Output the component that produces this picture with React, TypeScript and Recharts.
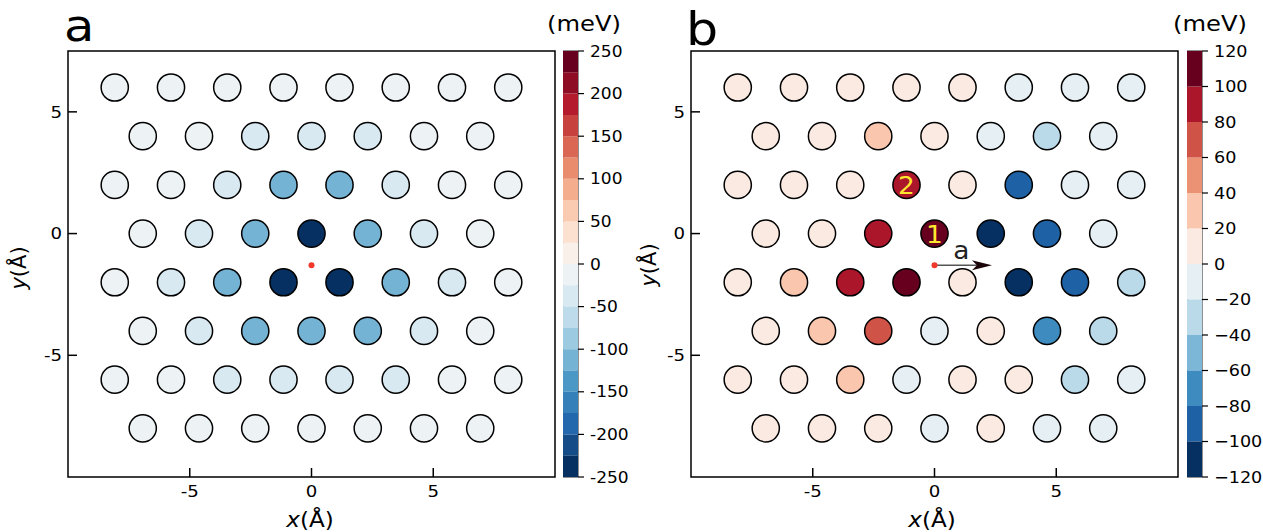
import React from "react";
import {
  ScatterChart, Scatter, XAxis, YAxis, ReferenceArea, ReferenceDot, ReferenceLine,
  BarChart, Bar,
} from "recharts";

const FONT = "'DejaVu Sans', sans-serif";
const STRETCH = 1.1; // glyphs in this figure run a little wide

// ─── Lattice (Å) ──────────────────────────────────────────────────────────────
const rowY = [6, 4, 2, 0, -2, -4, -6, -8];
const colsWide = [-8.08, -5.77, -3.46, -1.15, 1.15, 3.46, 5.77, 8.08];
const colsNarrow = [-6.93, -4.62, -2.31, 0, 2.31, 4.62, 6.93];
const axisTicks = [-5, 0, 5];

// ─── Site energies (meV), one list per row, top row first ────────────────────
const energyA = [
  [-10, -10, -10, -10, -10, -10, -10, -10],
  [-10, -10, -40, -40, -40, -10, -10],
  [-10, -10, -40, -110, -110, -40, -10, -10],
  [-10, -40, -110, -240, -110, -40, -10],
  [-10, -40, -110, -240, -240, -110, -40, -10],
  [-10, -40, -110, -110, -110, -40, -10],
  [-10, -10, -40, -40, -40, -40, -10, -10],
  [-10, -10, -10, -10, -10, -10, -10],
];

const energyB = [
  [10, 10, 10, 10, 10, -10, -10, -10],
  [10, 10, 30, 10, -10, -30, -10],
  [10, 10, 10, 90, 10, -90, -10, -10],
  [10, 10, 90, 110, -110, -90, -10],
  [10, 30, 90, 110, 10, -110, -90, -30],
  [10, 30, 70, -10, 10, -70, -30],
  [10, 10, 30, -10, 10, 10, -30, -10],
  [10, 10, 10, -10, 10, -10, -10],
];

const tagsB = [
  { x: 0, y: 0, text: "1" },
  { x: -1.15, y: 2, text: "2" },
];

const origin = { x: 0, y: -1.3 };
const arrowTip = { x: 2.36, y: -1.3 };

// ─── Colour levels ───────────────────────────────────────────────────────────
const levelsA = [-250, -225, -200, -175, -150, -125, -100, -75, -50, -25, 0, 25, 50, 75, 100, 125, 150, 175, 200, 225, 250];
const labelsA = [-250, -200, -150, -100, -50, 0, 50, 100, 150, 200, 250];
const levelsB = [-120, -100, -80, -60, -40, -20, 0, 20, 40, 60, 80, 100, 120];

// RdBu_r anchor colours
const RDBU_R = ["#053061", "#2166ac", "#4393c3", "#92c5de", "#d1e5f0", "#f7f7f7", "#fddbc7", "#f4a582", "#d6604d", "#b2182b", "#67001f"];

const hexToRgb = (h: string) => [1, 3, 5].map(i => parseInt(h.slice(i, i + 2), 16));
const rdbu = (t: number) => {
  const s = Math.min(Math.max(t, 0), 1) * (RDBU_R.length - 1);
  const i = Math.min(Math.floor(s), RDBU_R.length - 2);
  const f = s - i;
  const a = hexToRgb(RDBU_R[i]);
  const b = hexToRgb(RDBU_R[i + 1]);
  const c = a.map((v, k) => Math.round(v + (b[k] - v) * f));
  return `rgb(${c[0]},${c[1]},${c[2]})`;
};

const makePalette = (levels: number[]) => {
  const n = levels.length - 1;
  return levels.slice(0, -1).map((_, i) => rdbu(i / (n - 1)));
};

const colorFor = (v: number, levels: number[], palette: string[]) => {
  let i = 0;
  while (i < palette.length - 1 && v >= levels[i + 1]) i++;
  return palette[i];
};

const buildPoints = (rows: number[][]) =>
  rows.flatMap((vals, r) => {
    const cols = vals.length === 8 ? colsWide : colsNarrow;
    return vals.map((v, i) => ({ x: cols[i], y: rowY[r], v }));
  });

// ─── Stretched text helpers ──────────────────────────────────────────────────
const SText = ({ x, y, size, anchor = "start", dy, children, style, fill = "#000" }: any) => (
  <text transform={`translate(${x},${y}) scale(${STRETCH},1)`} textAnchor={anchor} dy={dy}
    fontSize={size} fontFamily={FONT} fill={fill} style={style}>
    {children}
  </text>
);

const makeTick = (fmt: (v: number) => string, size: number, dy: string) => (p: any) => {
  const label = fmt(p.payload.value);
  if (!label) return <g />;
  return <SText x={p.x} y={p.y} size={size} anchor={p.textAnchor} dy={dy}>{label}</SText>;
};

// ─── Lattice panel ───────────────────────────────────────────────────────────
const W = 630, H = 532;
const M = { top: 51, left: 67, right: 75, bottom: 54 };

const SiteShape = (levels: number[], palette: string[]) => (p: any) => {
  const { cx, cy, payload } = p;
  const tag = tagsB.find(t => payload.tagged && t.x === payload.x && t.y === payload.y);
  return (
    <g>
      <circle cx={cx} cy={cy} r={13.6} fill={colorFor(payload.v, levels, palette)} stroke="#000" strokeWidth={1.5} />
      {tag && <SText x={cx} y={cy + 9} size={24} anchor="middle" fill="#ffe62e">{tag.text}</SText>}
    </g>
  );
};

const ArrowShape = (p: any) => {
  const { x1, y1, x2, y2 } = p;
  const head = 20;
  return (
    <g>
      <line x1={x1} y1={y1} x2={x2 - head + 5} y2={y2} stroke="#555" strokeWidth={1.6} />
      <polygon points={`${x2},${y2} ${x2 - head},${y2 - 5} ${x2 - head + 5},${y2} ${x2 - head},${y2 + 5}`} fill="#1c0508" />
      <SText x={(x1 + x2) / 2 - 2} y={y1 - 6} size={24} anchor="middle" fill="#222">a</SText>
    </g>
  );
};

const tickLine = { stroke: "#000", strokeWidth: 1.5 };
const plain = (v: number) => String(v);

const LatticePanel = ({ points, levels, withArrow }: any) => {
  const palette = makePalette(levels);
  return (
    <ScatterChart width={W} height={H} margin={M}>
      <XAxis type="number" dataKey="x" domain={[-10, 10]} ticks={axisTicks} allowDataOverflow
        height={1} axisLine={false} tickSize={-9} tickMargin={17} tickLine={tickLine}
        tick={makeTick(plain, 16.5, "0.71em")} />
      <YAxis type="number" dataKey="y" domain={[-10, 7.5]} ticks={axisTicks} allowDataOverflow
        width={1} axisLine={false} tickSize={-9} tickMargin={15} tickLine={tickLine}
        tick={makeTick(plain, 16.5, "0.355em")} />
      <ReferenceArea x1={-10} x2={10} y1={-10} y2={7.5} fill="none" stroke="#000" strokeWidth={1.5} />
      <Scatter data={points} isAnimationActive={false} shape={SiteShape(levels, palette)} />
      <ReferenceDot x={origin.x} y={origin.y} r={3} fill="#f0392b" stroke="none" />
      {withArrow && <ReferenceLine segment={[origin, arrowTip]} shape={ArrowShape} />}
    </ScatterChart>
  );
};

// ─── Colour bar ──────────────────────────────────────────────────────────────
const CB_W = 80;
const CB_M = { top: 51, left: 0, right: 64, bottom: 55 };

const ColorBar = ({ levels, labels, fontSize, fmt }: any) => {
  const palette = makePalette(levels);
  const bins = levels.slice(0, -1).map((lo: number, i: number) => ({
    lo, hi: levels[i + 1], key: `s${i}`, color: palette[i],
  }));
  const segments = [...bins.filter((b: any) => b.lo >= 0), ...bins.filter((b: any) => b.hi <= 0).reverse()];
  const row: any = { name: "cb" };
  segments.forEach((s: any) => { row[s.key] = s.lo >= 0 ? s.hi - s.lo : s.lo - s.hi; });
  const lo = levels[0], hi = levels[levels.length - 1];
  const label = (v: number) => (labels.includes(v) ? fmt(v) : "");
  return (
    <BarChart width={CB_W} height={H} margin={CB_M} data={[row]} stackOffset="sign" barCategoryGap={0}>
      <XAxis dataKey="name" hide />
      <YAxis orientation="right" type="number" domain={[lo, hi]} allowDataOverflow ticks={levels}
        width={1} axisLine={false} tickSize={6} tickMargin={6}
        tickLine={{ stroke: "#000", strokeWidth: 1.2 }} tick={makeTick(label, fontSize, "0.355em")} />
      {segments.map((s: any) => (
        <Bar key={s.key} dataKey={s.key} stackId="cb" fill={s.color} isAnimationActive={false} />
      ))}
      <ReferenceArea y1={lo} y2={hi} fill="none" stroke="#222" strokeWidth={1} />
    </BarChart>
  );
};

const minus = (v: number) => (v < 0 ? `\u2212${-v}` : String(v));

// ─── Figure ──────────────────────────────────────────────────────────────────
const AxisTitle = ({ x, y, name, rotate }: any) => (
  <text textAnchor="middle" fontSize={21} fontFamily={FONT} fill="#000"
    transform={rotate ? `translate(${x},${y}) rotate(-90)` : `translate(${x},${y}) scale(${STRETCH},1)`}>
    <tspan fontStyle="italic">{name}</tspan>(Å)
  </text>
);

export default function App() {
  const pointsA = buildPoints(energyA);
  const pointsB = buildPoints(energyB).map(p => ({ ...p, tagged: true }));
  const abs = (left: number): React.CSSProperties => ({ position: "absolute", left, top: 0 });
  return (
    <div style={{ position: "absolute", left: 0, top: 0, width: 1263, height: 532, background: "#fff" }}>
      <div style={abs(0)}><LatticePanel points={pointsA} levels={levelsA} /></div>
      <div style={abs(563)}><ColorBar levels={levelsA} labels={labelsA} fontSize={15.5} fmt={plain} /></div>
      <div style={abs(623)}><LatticePanel points={pointsB} levels={levelsB} withArrow /></div>
      <div style={abs(1187)}><ColorBar levels={levelsB} labels={levelsB} fontSize={16} fmt={minus} /></div>
      <svg width={1263} height={532} style={{ position: "absolute", left: 0, top: 0, pointerEvents: "none" }}>
        <SText x={64} y={41} size={45}>a</SText>
        <SText x={686} y={45} size={46}>b</SText>
        <SText x={584} y={31} size={22} anchor="middle">(meV)</SText>
        <SText x={1210} y={31} size={22} anchor="middle">(meV)</SText>
        <AxisTitle x={310} y={527} name="x" />
        <AxisTitle x={932} y={527} name="x" />
        <AxisTitle x={26} y={268} name="y" rotate />
        <AxisTitle x={656} y={265} name="y" rotate />
      </svg>
    </div>
  );
}
